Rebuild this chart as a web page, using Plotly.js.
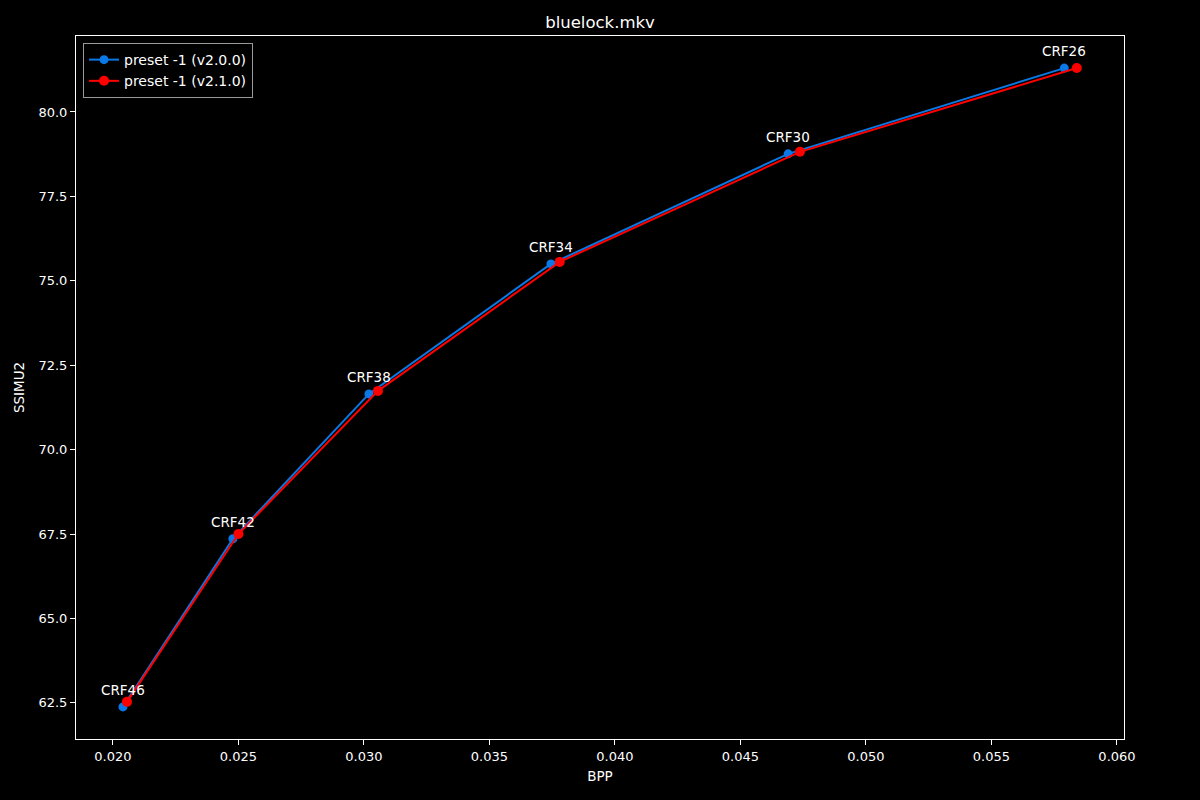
<!DOCTYPE html>
<html><head><meta charset="utf-8">
<script src="https://cdn.plot.ly/plotly-3.0.1.min.js"></script>
<style>html,body{margin:0;padding:0;background:#000;}#chart{width:1200px;height:800px;}</style>
</head><body><div id="chart"></div>
<script>
const crfLabels = ["CRF46","CRF42","CRF38","CRF34","CRF30","CRF26"];
const bppV200 = [0.0204, 0.02478, 0.0302, 0.03745, 0.0469, 0.0579];
const ssimV200 = [62.38, 67.36, 71.65, 75.50, 78.76, 81.30];
const bppV210 = [0.02056, 0.0250, 0.03056, 0.0378, 0.04737, 0.0584];
const ssimV210 = [62.53, 67.50, 71.74, 75.56, 78.82, 81.30];

const font = "DejaVu Sans, sans-serif";
const traces = [
  {x: bppV200, y: ssimV200, mode: "lines+markers", name: "preset -1 (v2.0.0)",
   line: {color: "#0a78e6", width: 2}, marker: {color: "#0a78e6", size: 9}},
  {x: bppV210, y: ssimV210, mode: "lines+markers", name: "preset -1 (v2.1.0)",
   line: {color: "#ff0000", width: 2}, marker: {color: "#ff0000", size: 10}}
];
const annotations = crfLabels.map((t, i) => ({
  x: bppV200[i], y: ssimV200[i], text: t, showarrow: false,
  xanchor: "center", yanchor: "bottom", yshift: 7,
  font: {family: font, size: 13.5, color: "#ffffff"}
}));
const axisCommon = {
  showgrid: false, zeroline: false, showline: true, mirror: true,
  linecolor: "#ffffff", linewidth: 1, ticks: "outside", ticklen: 5,
  tickcolor: "#ffffff", tickfont: {family: font, size: 13, color: "#ffffff"}
};
const layout = {
  width: 1200, height: 800, paper_bgcolor: "#000", plot_bgcolor: "#000",
  margin: {l: 76, r: 76, t: 36, b: 61},
  title: {text: "bluelock.mkv", font: {family: font, size: 16.5, color: "#ffffff"}, x: 0.5, xanchor: "center", y: 0.972, yanchor: "middle"},
  xaxis: Object.assign({}, axisCommon, {range: [0.01853, 0.06028], tickvals: [0.020,0.025,0.030,0.035,0.040,0.045,0.050,0.055,0.060], tickformat: ".3f",
    title: {text: "BPP", font: {family: font, size: 13.5, color: "#ffffff"}, standoff: 8}}),
  yaxis: Object.assign({}, axisCommon, {range: [61.43, 82.25], tickvals: [62.5,65,67.5,70,72.5,75,77.5,80], tickformat: ".1f",
    title: {text: "SSIMU2", font: {family: font, size: 13.5, color: "#ffffff"}, standoff: 10}}),
  showlegend: true,
  legend: {x: 0.0067, y: 0.99, xanchor: "left", yanchor: "top", bgcolor: "#000", bordercolor: "#999", borderwidth: 1,
    font: {family: font, size: 14, color: "#ffffff"}, tracegroupgap: 0, itemwidth: 30},
  annotations: annotations
};
Plotly.newPlot("chart", traces, layout, {displayModeBar: false});
</script></body></html>
